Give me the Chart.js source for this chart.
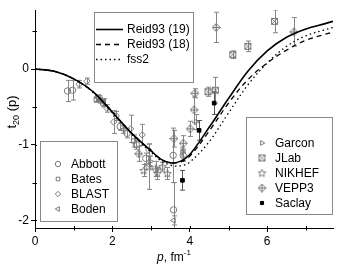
<!DOCTYPE html>
<html><head><meta charset="utf-8">
<script src="https://cdn.jsdelivr.net/npm/chart.js@4.4.1/dist/chart.umd.min.js"></script>
<style>html,body{margin:0;padding:0;background:#fff;}#wrap{width:347px;height:266px;}</style>
</head><body><div id="wrap"><canvas id="c" width="347" height="266"></canvas></div>
<script>
// ---- theory curves ----
const curveP = [0,0.5,1,1.5,2,2.5,3,3.25,3.5,3.75,4,4.5,5,5.5,6,6.5,7,7.5,7.7];
const reid19 = [0,-0.03,-0.13,-0.30,-0.57,-0.85,-1.08,-1.19,-1.24,-1.22,-1.13,-0.77,-0.39,-0.03,0.24,0.42,0.53,0.60,0.63];
const reid18 = [0,-0.03,-0.13,-0.30,-0.57,-0.85,-1.08,-1.19,-1.24,-1.23,-1.15,-0.82,-0.45,-0.14,0.08,0.25,0.38,0.46,0.49];
const fss2   = [0,-0.03,-0.13,-0.31,-0.58,-0.86,-1.10,-1.21,-1.27,-1.28,-1.23,-0.96,-0.58,-0.21,0.08,0.30,0.44,0.52,0.55];
// ---- experiments (p, t20, error) ----
const abbottP = [0.84,0.97,2.20,2.38,2.62,2.86,3.57,3.58,3.83];
const abbottT = [-0.29,-0.28,-0.76,-0.85,-1.00,-1.18,-1.14,-1.86,-1.14];
const abbottE = [0.14,0.13,0.05,0.06,0.06,0.07,0.36,0.36,0.08];
const batesP = [1.58,1.68,1.75,2.55];
const batesT = [-0.40,-0.41,-0.45,-0.95];
const batesE = [0.04,0.04,0.05,0.08];
const blastP = [1.14,1.34,1.65,1.86,2.03,2.10,2.47,2.77,2.94];
const blastT = [-0.20,-0.16,-0.39,-0.52,-0.70,-0.62,-0.79,-0.87,-1.07];
const blastE = [0.05,0.04,0.04,0.05,0.15,0.06,0.18,0.14,0.08];
const bodenP = [1.62,1.78,2.28,3.58];
const bodenT = [-0.38,-0.44,-0.80,-2.00];
const bodenE = [0.04,0.05,0.05,0.06];
const garconP = [2.98,3.81,4.16];
const garconT = [-1.22,-1.10,-0.70];
const garconE = [0.07,0.06,0.10];
const jlabP = [4.47,4.66,5.11,5.50,6.19];
const jlabT = [-0.30,-0.28,0.19,0.30,0.63];
const jlabE = [0.06,0.17,0.05,0.07,0.15];
const nikhefP = [2.81,2.94,3.16,3.29,3.42];
const nikhefT = [-1.34,-1.29,-1.38,-1.29,-1.38];
const nikhefE = [0.08,0.30,0.08,0.06,0.08];
const vepp3P = [2.68,3.12,3.59,3.83,4.01,4.11,4.13,4.68,6.69];
const vepp3T = [-1.12,-1.32,-0.92,-0.98,-0.79,-0.54,-0.32,0.55,0.49];
const vepp3E = [0.10,0.10,0.11,0.10,0.10,0.17,0.06,0.20,0.19];
const saclayP = [3.81,4.24,4.63];
const saclayT = [-1.47,-0.81,-0.45];
const saclayE = [0.13,0.13,0.15];
// ---- axis ticks ----
const xTicks = [0,2,4,6];
const yTicks = [-2,-1,0];

const GRAY = '#7a7a7a';
const FONT = '"Liberation Sans", Arial, sans-serif';

function mk(draw){const c=document.createElement('canvas');c.width=9;c.height=9;const g=c.getContext('2d');g.strokeStyle=GRAY;g.fillStyle=GRAY;g.lineWidth=1;draw(g);return c;}
const jlabSym = mk(g=>{g.strokeRect(1.5,1.5,6,6);g.beginPath();g.moveTo(2,2);g.lineTo(7,7);g.moveTo(7,2);g.lineTo(2,7);g.stroke();});
const nikhefSym = mk(g=>{g.beginPath();for(let i=0;i<10;i++){const r=i%2?1.8:4;const a=-Math.PI/2+i*Math.PI/5;const x=4.5+r*Math.cos(a),y=4.8+r*Math.sin(a);i?g.lineTo(x,y):g.moveTo(x,y);}g.closePath();g.stroke();});
const veppSym = mk(g=>{g.beginPath();g.moveTo(4.5,0.5);g.lineTo(8.5,4.5);g.lineTo(4.5,8.5);g.lineTo(0.5,4.5);g.closePath();g.moveTo(4.5,1);g.lineTo(4.5,8);g.moveTo(1,4.5);g.lineTo(8,4.5);g.stroke();});

function pts(P,T,E){return P.map((p,i)=>({x:p,y:T[i],e:E[i]}));}
function curve(Y){return curveP.map((p,i)=>({x:p,y:Y[i]}));}

const series = [
  {label:'Abbott',data:pts(abbottP,abbottT,abbottE),style:'circle',r:3.2,rot:0,leg:0},
  {label:'Bates',data:pts(batesP,batesT,batesE),style:'rect',r:3,rot:0,leg:0},
  {label:'BLAST',data:pts(blastP,blastT,blastE),style:'rectRot',r:3.2,rot:0,leg:0},
  {label:'Boden',data:pts(bodenP,bodenT,bodenE),style:'triangle',r:3.2,rot:-90,leg:0},
  {label:'Garcon',data:pts(garconP,garconT,garconE),style:'triangle',r:3.2,rot:90,leg:1},
  {label:'JLab',data:pts(jlabP,jlabT,jlabE),style:jlabSym,r:4,rot:0,leg:1},
  {label:'NIKHEF',data:pts(nikhefP,nikhefT,nikhefE),style:nikhefSym,r:4,rot:0,leg:1},
  {label:'VEPP3',data:pts(vepp3P,vepp3T,vepp3E),style:veppSym,r:4,rot:0,leg:1},
  {label:'Saclay',data:pts(saclayP,saclayT,saclayE),style:'rect',r:2.6,rot:0,leg:1,fill:'#000',col:'#000'}
];
const lines = [
  {label:'Reid93 (19)',data:curve(reid19),dash:[],w:1.6},
  {label:'Reid93 (18)',data:curve(reid18),dash:[5,4],w:1.3},
  {label:'fss2',data:curve(fss2),dash:[1.5,3],w:1.3}
];

const datasets = [];
lines.forEach(l=>datasets.push({type:'line',label:l.label,data:l.data,borderColor:'#000',borderWidth:l.w,borderDash:l.dash,pointRadius:0,fill:false,tension:0.35,isCurve:true}));
series.forEach(s=>datasets.push({type:'scatter',label:s.label,data:s.data,pointStyle:s.style,pointRadius:s.r,pointRotation:s.rot,borderColor:s.col||GRAY,backgroundColor:s.fill||'rgba(255,255,255,0)',borderWidth:1,errBars:true}));

const errPlugin = {id:'err',beforeDatasetsDraw(chart){
  const ctx=chart.ctx,xs=chart.scales.x,ys=chart.scales.y,a=chart.chartArea;
  ctx.save();ctx.beginPath();ctx.rect(a.left,a.top,a.right-a.left,a.bottom-a.top);ctx.clip();
  chart.data.datasets.forEach(ds=>{ if(!ds.errBars) return;
    ctx.strokeStyle=ds.borderColor===GRAY?'#858585':'#555';ctx.lineWidth=1;
    ds.data.forEach(d=>{const x=Math.round(xs.getPixelForValue(d.x))+0.5;const y1=ys.getPixelForValue(d.y+d.e),y2=ys.getPixelForValue(d.y-d.e);
      ctx.beginPath();ctx.moveTo(x,y1);ctx.lineTo(x,y2);ctx.moveTo(x-2.5,y1);ctx.lineTo(x+2.5,y1);ctx.moveTo(x-2.5,y2);ctx.lineTo(x+2.5,y2);ctx.stroke();});
  });ctx.restore();}};

const decoPlugin = {id:'deco',afterDraw(chart){
  const ctx=chart.ctx,xs=chart.scales.x,ys=chart.scales.y,a=chart.chartArea;
  ctx.save();ctx.strokeStyle='#000';ctx.lineWidth=1;ctx.beginPath();
  [1,3,5,7].forEach(v=>{const x=Math.round(xs.getPixelForValue(v))+0.5;ctx.moveTo(x,a.bottom-2);ctx.lineTo(x,a.bottom+2.5);});
  xTicks.forEach(v=>{const x=Math.round(xs.getPixelForValue(v))+0.5;ctx.moveTo(x,a.bottom-2);ctx.lineTo(x,a.bottom);});
  [-1.5,-0.5,0.5].forEach(v=>{const y=Math.round(ys.getPixelForValue(v))+0.5;ctx.moveTo(a.left-2.5,y);ctx.lineTo(a.left+2,y);});
  yTicks.forEach(v=>{const y=Math.round(ys.getPixelForValue(v))+0.5;ctx.moveTo(a.left,y);ctx.lineTo(a.left+2,y);});
  ctx.stroke();
  // axis titles
  ctx.fillStyle='#000';ctx.textBaseline='alphabetic';
  ctx.save();ctx.translate(16,112);ctx.rotate(-Math.PI/2);
  ctx.font='13px '+FONT;const w1=ctx.measureText('t').width,w3=ctx.measureText(' (p)').width;
  ctx.font='9px '+FONT;const w2=ctx.measureText('20').width;
  let sx=-(w1+w2+w3)/2;
  ctx.font='13px '+FONT;ctx.fillText('t',sx,0);sx+=w1;
  ctx.font='9px '+FONT;ctx.fillText('20',sx,3);sx+=w2;
  ctx.font='13px '+FONT;ctx.fillText(' (p)',sx,0);
  ctx.restore();
  ctx.font='italic 12px '+FONT;const v1=ctx.measureText('p').width;
  ctx.font='12px '+FONT;const v2=ctx.measureText(', fm').width;
  ctx.font='8px '+FONT;const v3=ctx.measureText('-1').width;
  let tx=174-(v1+v2+v3)/2;
  ctx.font='italic 12px '+FONT;ctx.fillText('p',tx,261);tx+=v1;
  ctx.font='12px '+FONT;ctx.fillText(', fm',tx,261);tx+=v2;
  ctx.font='8px '+FONT;ctx.fillText('-1',tx,255);
  // legend boxes
  ctx.strokeStyle='#888';ctx.lineWidth=1;
  ctx.strokeRect(94.5,12.5,99,70);
  ctx.strokeRect(40.5,141.5,77,80);
  ctx.strokeRect(246.5,117.5,86,97);
  ctx.font='12px '+FONT;ctx.textBaseline='middle';
  lines.forEach((l,i)=>{const y=29+i*15;ctx.save();ctx.strokeStyle='#000';ctx.lineWidth=l.w;ctx.setLineDash(l.dash);ctx.beginPath();ctx.moveTo(96,y+0.5);ctx.lineTo(123,y+0.5);ctx.stroke();ctx.restore();ctx.fillText(l.label,127,y+1);});
  let i0=0,i1=0;
  series.forEach(s=>{let x,y;if(s.leg===0){x=58;y=164+i0*15;i0++;}else{x=262;y=143+i1*15;i1++;}
    ctx.save();ctx.strokeStyle=s.col||GRAY;ctx.fillStyle=s.fill||'rgba(255,255,255,0)';ctx.lineWidth=1;
    Chart.helpers.drawPoint(ctx,{pointStyle:s.style,radius:s.r*0.85,rotation:s.rot,borderWidth:1},x,y);
    ctx.restore();ctx.fillStyle='#000';ctx.fillText(s.label,x+13,y+1);});
  ctx.restore();}};

new Chart(document.getElementById('c'),{
  type:'scatter',
  data:{datasets},
  options:{responsive:false,devicePixelRatio:1,animation:false,
    layout:{padding:{top:10,right:14,left:0,bottom:0}},
    plugins:{legend:{display:false},tooltip:{enabled:false}},
    scales:{
      x:{type:'linear',min:0,max:7.7,afterFit:s=>{s.height=38;},
        afterBuildTicks:s=>{s.ticks=xTicks.map(v=>({value:v}));},
        grid:{display:true,drawOnChartArea:false,drawTicks:true,tickLength:4,color:'#000'},
        border:{display:true,color:'#000',width:1},
        ticks:{color:'#000',padding:2,font:{family:FONT,size:12},maxRotation:0}},
      y:{type:'linear',min:-2.1,max:0.78,afterFit:s=>{s.width=35;},
        afterBuildTicks:s=>{s.ticks=yTicks.map(v=>({value:v}));},
        grid:{display:true,drawOnChartArea:false,drawTicks:true,tickLength:4,color:'#000'},
        border:{display:true,color:'#000',width:1},
        ticks:{color:'#000',padding:2,font:{family:FONT,size:12}}}
    }},
  plugins:[errPlugin,decoPlugin]
});
</script></body></html>
